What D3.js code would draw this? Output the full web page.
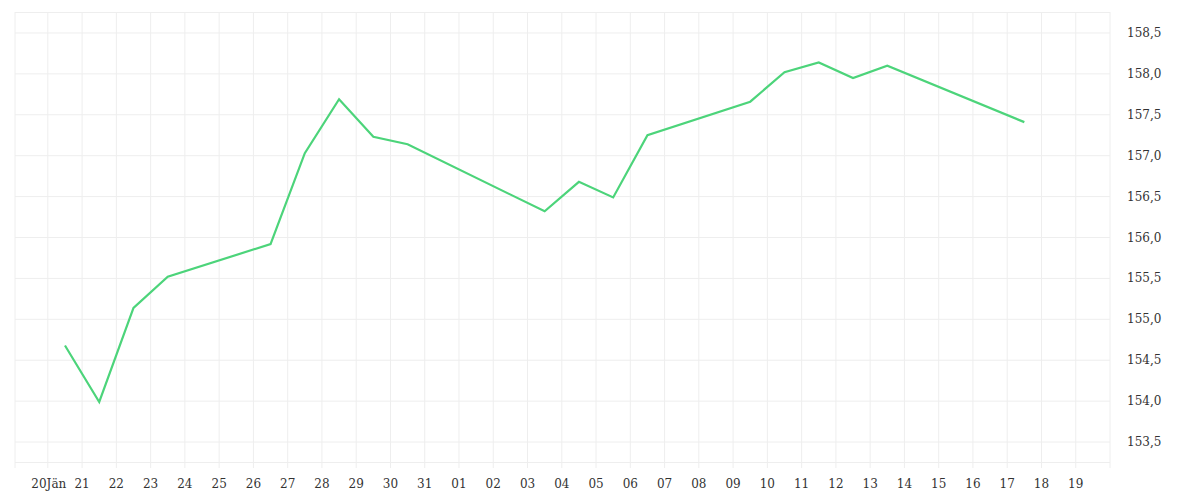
<!DOCTYPE html>
<html><head><meta charset="utf-8">
<script src="https://cdn.jsdelivr.net/npm/d3@7"></script>
<style>body{margin:0;background:#fff}</style></head>
<body><svg id="c" width="1200" height="500"></svg>
<script>
const dates=["2025-01-20T12","2025-01-21T12","2025-01-22T12","2025-01-23T12","2025-01-26T12","2025-01-27T12","2025-01-28T12","2025-01-29T12","2025-01-30T12","2025-02-03T12","2025-02-04T12","2025-02-05T12","2025-02-06T12","2025-02-09T12","2025-02-10T12","2025-02-11T12","2025-02-12T12","2025-02-13T12","2025-02-17T12"];
const values=[154.68,153.99,155.14,155.52,155.92,157.03,157.69,157.23,157.14,156.32,156.68,156.49,157.25,157.66,158.02,158.14,157.95,158.10,157.41];
const yTicks=[153.5,154,154.5,155,155.5,156,156.5,157,157.5,158,158.5];
const svg=d3.select("#c");
const pt=d3.timeParse("%Y-%m-%dT%H");
const x=d3.scaleTime().domain([new Date(2025,0,19,1),new Date(2025,1,20)]).range([15,1110]);
const y=d3.scaleLinear().domain([153.25,158.75]).range([462.5,12.5]);
const days=d3.timeDay.range(new Date(2025,0,20),new Date(2025,1,20));
const g=svg.append("g");
g.selectAll(".v").data(days).join("line").attr("x1",d=>x(d)).attr("x2",d=>x(d)).attr("y1",12).attr("y2",468).attr("stroke","#eeeeee");
g.selectAll(".h").data(yTicks.concat([153.25,158.75])).join("line").attr("x1",15).attr("x2",1110).attr("y1",d=>y(d)).attr("y2",d=>y(d)).attr("stroke","#eeeeee");
[15,1110].forEach(v=>g.append("line").attr("x1",v).attr("x2",v).attr("y1",12).attr("y2",468).attr("stroke","#eeeeee"));
const font="'DejaVu Serif', serif";
svg.selectAll(".xl").data(days).join("text").attr("x",d=>x(d)+(d.getDate()===20?1:0)).attr("y",488).attr("text-anchor","middle")
 .attr("font-family",font).attr("font-size",12).attr("fill","#333").attr("textLength",null)
 .text(d=>d.getDate()===20?"20Jän":d3.timeFormat("%d")(d));
svg.selectAll(".yl").data(yTicks).join("text").attr("x",1127).attr("y",d=>y(d)+4).attr("font-family",font).attr("font-size",12).attr("fill","#333")
 .text(d=>d3.format(".1f")(d).replace(".",","));
svg.append("path").datum(dates.map((d,i)=>[pt(d),values[i]])).attr("fill","none").attr("stroke","#4cd47a").attr("stroke-width",2.2)
 .attr("d",d3.line().x(d=>x(d[0])).y(d=>y(d[1])));
</script></body></html>
